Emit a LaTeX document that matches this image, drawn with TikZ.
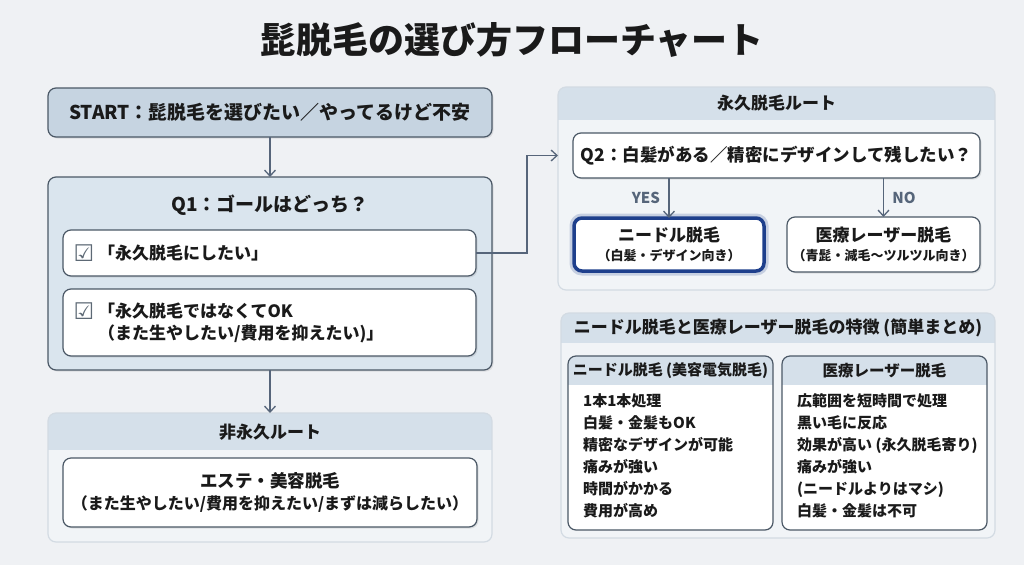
\documentclass[tikz,border=0pt]{standalone}
\usepackage{fontspec}
\setmainfont{Noto Sans CJK JP}
\newfontfamily\symfont{DejaVu Sans}
\usetikzlibrary{positioning,arrows.meta,shadows}

\definecolor{bgcol}{HTML}{EFF1F4}
\definecolor{edgecol}{HTML}{4B5866}
\definecolor{startcol}{HTML}{C6D4E1}
\definecolor{qcol}{HTML}{DAE5EE}
\definecolor{panelcol}{HTML}{F1F4F7}
\definecolor{hdrcol}{HTML}{D5E0EA}
\definecolor{faintcol}{HTML}{D3DBE3}
\definecolor{arrcol}{HTML}{56657A}
\definecolor{needlecol}{HTML}{1E3F8C}
\definecolor{inkcol}{HTML}{1A1A1A}

\newcommand{\fs}[2]{\fontsize{#1}{#2}\selectfont}

\tikzset{
  box/.style={rectangle, draw=edgecol, line width=1.2pt, rounded corners=8pt,
    fill=white, align=center, text=inkcol, outer sep=0pt,
    font=\bfseries\fs{17}{22},
    drop shadow={opacity=0.18, shadow xshift=1.5pt, shadow yshift=-1.5pt}},
  panel/.style={rectangle, rounded corners=8pt, fill=panelcol, outer sep=0pt, inner sep=0pt},
  hdrtext/.style={text=inkcol, font=\bfseries\fs{17}{22}},
  listtext/.style={text=inkcol, align=left, anchor=north west, inner sep=0pt,
    font=\bfseries\fs{15}{22}},
  chk/.style={text=edgecol!90, font=\symfont\fs{23}{24}},
  yesno/.style={text=arrcol, font=\bfseries\fs{15}{16}},
  arr/.style={draw=arrcol, line width=1.3pt, -{Straight Barb[length=6pt,width=11pt]}}
}

\begin{document}
\begin{tikzpicture}[x=1pt, y=-1pt]
\useasboundingbox[fill=bgcol] (0,0) rectangle (1024,565);

\node[text=inkcol, font=\bfseries\fs{36}{40}] (title) at (512,40) {髭脱毛の選び方フローチャート};

% left column
\node[box, fill=startcol, minimum width=444pt, minimum height=49pt, font=\bfseries\fs{19}{22}] (start) at (270,112.5)
  {START：髭脱毛を選びたい／やってるけど不安};
\node[box, fill=qcol, minimum width=444pt, minimum height=193pt] (q1) at (270,273.5) {};
\node[hdrtext, font=\bfseries\fs{19}{22}] (q1t) at (270,205) {Q1：ゴールはどっち？};
\node[box, align=left, text width=343pt, inner xsep=35pt, minimum height=46pt] (opt1) at (269.5,253)
  {「永久脱毛にしたい」};
\node[box, align=left, text width=343pt, inner xsep=35pt, minimum height=67pt] (opt2) at (269.5,322.5)
  {「永久脱毛ではなくてOK\\（また生やしたい/費用を抑えたい)」};
\node[chk] (chk1) at (84,253) {☑};
\node[chk] (chk2) at (84,311) {☑};

\node[panel, minimum width=444pt, minimum height=129pt] (nonperm) at (270,477.5) {};

% right column
\node[panel, minimum width=437pt, minimum height=203pt] (perm) at (776.5,188.5) {};
\node[panel, minimum width=434pt, minimum height=225pt] (feat) at (778,425.5) {};
\node[panel, fill=white, minimum width=205pt, minimum height=174pt] (ndbox) at (670.5,443) {};
\node[panel, fill=white, minimum width=205pt, minimum height=174pt] (lsbox) at (884.5,443) {};

% header bands
\foreach \p/\h/\c in {nonperm/37/faintcol, perm/33/faintcol, feat/30/faintcol, ndbox/29/edgecol, lsbox/29/edgecol} {
  \begin{scope}
    \clip[rounded corners=8pt] (\p.north west) rectangle (\p.south east);
    \fill[hdrcol] (\p.north west) rectangle ([yshift=-\h pt]\p.north east);
  \end{scope}
  \draw[\c, line width=1.2pt, rounded corners=8pt] (\p.north west) rectangle (\p.south east);
}

\node[hdrtext] (nonpermt) at (270,432) {非永久ルート};
\node[box, minimum width=414pt, minimum height=69pt] (este) at (270,492.5)
  {\fs{17.5}{22}エステ・美容脱毛\\\fs{16}{22}（また生やしたい/費用を抑えたい/まずは減らしたい）};

\node[hdrtext] (permt) at (776.5,103.5) {永久脱毛ルート};
\node[box, minimum width=407pt, minimum height=45pt, font=\bfseries\fs{17.5}{22}] (q2) at (776.5,155.5)
  {Q2：白髪がある／精密にデザインして残したい？};
\node[box, draw=needlecol, line width=3.5pt, drop shadow={opacity=0},
  preaction={draw=needlecol!60, line width=9pt, opacity=0.35},
  minimum width=190pt, minimum height=53pt] (needle) at (669,244.5)
  {ニードル脱毛\\[-3pt]\fs{13}{16}（白髪・デザイン向き）};
\node[box, minimum width=193pt, minimum height=55pt] (laser) at (883.5,244.5)
  {医療レーザー脱毛\\[-3pt]\fs{13}{16}（青髭・減毛〜ツルツル向き）};

\node[hdrtext] (featt) at (778,328) {ニードル脱毛と医療レーザー脱毛の特徴 (簡単まとめ)};
\node[hdrtext, font=\bfseries\fs{15}{20}] (ndt) at (670.5,370.5) {ニードル脱毛 (美容電気脱毛)};
\node[hdrtext, font=\bfseries\fs{15.5}{20}] (lst) at (884.5,370.5) {医療レーザー脱毛};
\node[listtext] (ndlist) at (583,393)
  {1本1本処理\\白髪・金髪もOK\\精密なデザインが可能\\痛みが強い\\時間がかかる\\費用が高め};
\node[listtext] (lslist) at (797,393)
  {広範囲を短時間で処理\\黒い毛に反応\\効果が高い (永久脱毛寄り)\\痛みが強い\\(ニードルよりはマシ)\\白髪・金髪は不可};

% connectors
\coordinate (turn) at (527,0);
\draw[arr] (start) -- (q1);
\draw[arr] (q1) -- (nonperm);
\draw[arr] (opt1.east) -- (opt1.east -| turn) |- (perm.west |- q2);
\draw[arr] (q2.south -| needle) -- node[yesno, left=5pt] {YES} (needle.north);
\draw[arr] (q2.south -| laser) -- node[yesno, right=5pt] {NO} (laser.north);
\end{tikzpicture}
\end{document}
